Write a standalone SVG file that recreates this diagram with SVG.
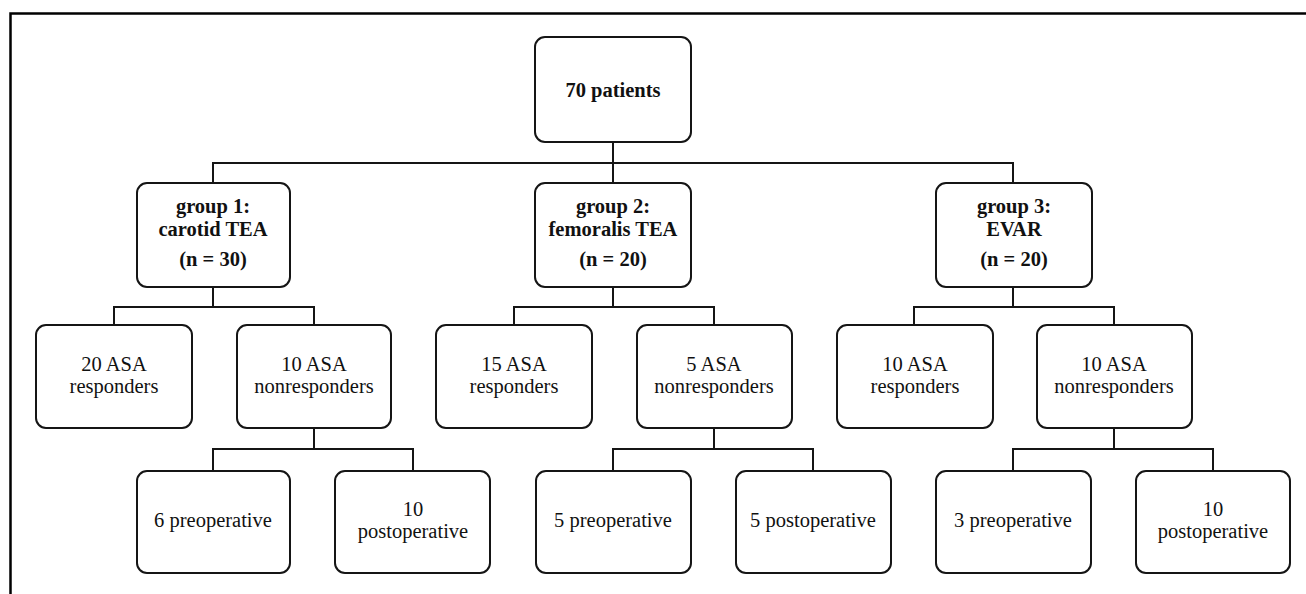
<svg xmlns="http://www.w3.org/2000/svg" width="1306" height="594" viewBox="0 0 1306 594">
<style>
.box{fill:#fff;stroke:#151515;stroke-width:2}
.con{fill:none;stroke:#151515;stroke-width:2}
text{font-family:"Liberation Serif","Times New Roman",serif;font-size:20.5px;fill:#111;text-anchor:middle}
.b{font-weight:bold}
</style>
<rect width="1306" height="594" fill="#fff"/>
<path d="M10.5 594 V13.5 H1306" fill="none" stroke="#000" stroke-width="2.5"/>
<g id="connectors" class="con">
<path d="M613 142 V163 M213 183 V163 H1013 V183 M613 163 V183"/>
<path d="M213 287 V307 M114 325 V307 H314 V325"/>
<path d="M613 287 V307 M514 325 V307 H714 V325"/>
<path d="M1013 287 V307 M914 325 V307 H1114 V325"/>
<path d="M314 428 V449 M213 471 V449 H413 V471"/>
<path d="M714 428 V449 M613 471 V449 H813 V471"/>
<path d="M1114 428 V449 M1013 471 V449 H1213 V471"/>
</g>
<g id="root"><rect class="box" x="535" y="37" width="156" height="105" rx="10"/><text class="b" x="613" y="97">70 patients</text></g>
<g id="g1"><rect class="box" x="137" y="183" width="153" height="104" rx="10"/><text class="b" x="213" y="213">group 1:</text><text class="b" x="213" y="236">carotid TEA</text><text class="b" x="213" y="266">(n = 30)</text></g>
<g id="g2"><rect class="box" x="535" y="183" width="156" height="104" rx="10"/><text class="b" x="613" y="213">group 2:</text><text class="b" x="613" y="236">femoralis TEA</text><text class="b" x="613" y="266">(n = 20)</text></g>
<g id="g3"><rect class="box" x="936" y="183" width="156" height="104" rx="10"/><text class="b" x="1014" y="213">group 3:</text><text class="b" x="1014" y="236">EVAR</text><text class="b" x="1014" y="266">(n = 20)</text></g>
<g id="r1"><rect class="box" x="36" y="325" width="156" height="103" rx="10"/><text x="114" y="371">20 ASA</text><text x="114" y="393">responders</text></g>
<g id="n1"><rect class="box" x="237" y="325" width="154" height="103" rx="10"/><text x="314" y="371">10 ASA</text><text x="314" y="393">nonresponders</text></g>
<g id="r2"><rect class="box" x="436" y="325" width="156" height="103" rx="10"/><text x="514" y="371">15 ASA</text><text x="514" y="393">responders</text></g>
<g id="n2"><rect class="box" x="637" y="325" width="155" height="103" rx="10"/><text x="714" y="371">5 ASA</text><text x="714" y="393">nonresponders</text></g>
<g id="r3"><rect class="box" x="837" y="325" width="156" height="103" rx="10"/><text x="915" y="371">10 ASA</text><text x="915" y="393">responders</text></g>
<g id="n3"><rect class="box" x="1037" y="325" width="155" height="103" rx="10"/><text x="1114" y="371">10 ASA</text><text x="1114" y="393">nonresponders</text></g>
<g id="pre1"><rect class="box" x="137" y="471" width="153" height="102" rx="10"/><text x="213" y="527">6 preoperative</text></g>
<g id="post1"><rect class="box" x="335" y="471" width="155" height="102" rx="10"/><text x="413" y="516">10</text><text x="413" y="538">postoperative</text></g>
<g id="pre2"><rect class="box" x="536" y="471" width="155" height="102" rx="10"/><text x="613" y="527">5 preoperative</text></g>
<g id="post2"><rect class="box" x="736" y="471" width="155" height="102" rx="10"/><text x="813" y="527">5 postoperative</text></g>
<g id="pre3"><rect class="box" x="936" y="471" width="155" height="102" rx="10"/><text x="1013" y="527">3 preoperative</text></g>
<g id="post3"><rect class="box" x="1136" y="471" width="154" height="102" rx="10"/><text x="1213" y="516">10</text><text x="1213" y="538">postoperative</text></g>
</svg>
